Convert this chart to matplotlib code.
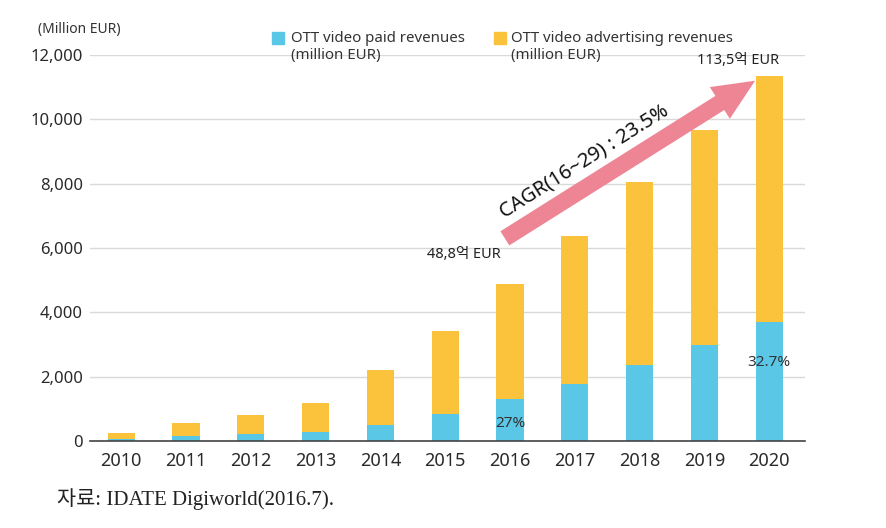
import matplotlib
matplotlib.use("Agg")
import matplotlib.pyplot as plt
from matplotlib.patches import FancyArrowPatch
import numpy as np

years = ["2010", "2011", "2012", "2013", "2014", "2015", "2016", "2017", "2018", "2019", "2020"]
paid = [60, 155, 210, 290, 500, 840, 1318, 1772, 2372, 2994, 3711]
advertising = [200, 415, 610, 900, 1700, 2580, 3562, 4598, 5668, 6676, 7639]
yticks = [0, 2000, 4000, 6000, 8000, 10000, 12000]
legend_lines = [["OTT video paid revenues", "(million EUR)"],
                ["OTT video advertising revenues", "(million EUR)"]]

blue = "#5BC7E6"
yellow = "#FBC33C"
pink = "#EE8595"

plt.rcParams['font.family'] = ['Noto Sans', 'Noto Sans CJK KR', 'DejaVu Sans']

fig = plt.figure(figsize=(8.86, 5.28), dpi=100)
ax = fig.add_axes([90/886, 1 - 441/528, (805-90)/886, (441-55)/528])

x = np.arange(len(years))
ax.bar(x, paid, width=0.42, color=blue, zorder=3)
ax.bar(x, advertising, bottom=paid, width=0.42, color=yellow, zorder=3)

ax.set_xlim(-0.48, 10.55)
ax.set_ylim(0, 12000)
ax.set_yticks(yticks)
ax.set_yticklabels([f"{v:,}" for v in yticks], fontsize=12, color="#2a2a2a")
ax.set_xticks(x)
ax.set_xticklabels(years, fontsize=13, color="#2a2a2a")
ax.tick_params(axis="both", length=0, pad=5)
ax.tick_params(axis="x", pad=8)
ax.grid(axis="y", color="#d9d9d9", linewidth=1, zorder=0)
for s in ["left", "right", "top"]:
    ax.spines[s].set_visible(False)
ax.spines["bottom"].set_color("#444444")
ax.spines["bottom"].set_linewidth(1.2)
ax.spines["bottom"].set_zorder(4)

# unit label
fig.text(38/886, 1 - 30/528, "(Million EUR)", fontsize=10, color="#333333", va="center", ha="left")

# legend (manual, two lines per entry)
for (sx, tx), col, lines in zip([(272, 291), (494, 511)], [blue, yellow], legend_lines):
    fig.patches.append(plt.Rectangle((sx/886, 1 - 44/528), 12/886, 12/528,
                                     transform=fig.transFigure, color=col, figure=fig))
    fig.text(tx/886, 1 - 38/528, lines[0], fontsize=10.8, color="#333333", va="center", ha="left")
    fig.text(tx/886, 1 - 55/528, lines[1], fontsize=10.8, color="#333333", va="center", ha="left")

# annotations
ax.text(5.28, 5800, "48,8억 EUR", fontsize=10.5, ha="center", va="center", color="#222222", zorder=5)
ax.text(9.52, 11830, "113,5억 EUR", fontsize=10.5, ha="center", va="center", color="#222222", zorder=5)
ax.text(6.0, 530, "27%", fontsize=11, ha="center", va="center", color="#333333", zorder=5)
ax.text(10.0, 2450, "32.7%", fontsize=11, ha="center", va="center", color="#333333", zorder=5)

arrow = FancyArrowPatch((5.92, 6300), (9.78, 11200),
                        arrowstyle="simple,head_length=1.5,head_width=1.35,tail_width=0.6",
                        mutation_scale=20, color=pink, lw=0, shrinkA=0, shrinkB=0, zorder=6)
ax.add_patch(arrow)
ax.text(7.15, 8680, "CAGR(16~29) : 23.5%", fontsize=14.5, fontweight="bold",
        rotation=32.3, rotation_mode="anchor", ha="center", va="center", color="#111111", zorder=7)

# source
fig.text(57/886, 1 - 499/528, "자료: IDATE Digiworld(2016.7).", fontsize=15,
         family=['Liberation Serif', 'Noto Sans CJK KR'], color="#222222", va="center", ha="left")

fig.savefig("out.png", dpi=100)
